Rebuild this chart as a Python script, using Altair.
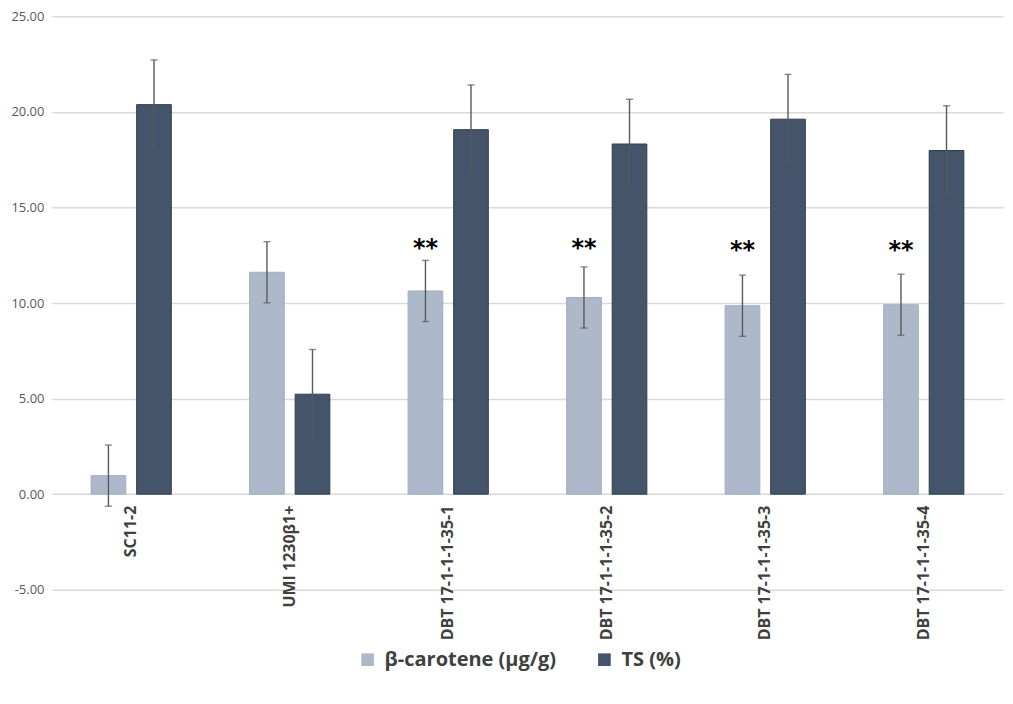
import altair as alt
import pandas as pd

categories = ["SC11-2", "UMI 1230β1+", "DBT 17-1-1-1-35-1", "DBT 17-1-1-1-35-2",
              "DBT 17-1-1-1-35-3", "DBT 17-1-1-1-35-4"]
series_names = ["β-carotene (µg/g)", "TS (%)"]
beta_values = [0.97, 11.61, 10.63, 10.29, 9.86, 9.91]
beta_errors = [1.60, 1.60, 1.60, 1.60, 1.60, 1.60]
ts_values = [20.38, 5.23, 19.07, 18.32, 19.62, 17.98]
ts_errors = [2.34, 2.34, 2.34, 2.34, 2.34, 2.34]
star_labels = ["", "", "**", "**", "**", "**"]
star_levels = [None, None, 13.0, 13.0, 12.9, 12.9]
y_ticks = [-5, 0, 5, 10, 15, 20, 25]

rows = []
for i, c in enumerate(categories):
    for s, v, e in ((series_names[0], beta_values[i], beta_errors[i]),
                    (series_names[1], ts_values[i], ts_errors[i])):
        rows.append({"category": c, "series": s, "value": v,
                     "lo": v - e, "hi": v + e})
df = pd.DataFrame(rows)

stars = pd.DataFrame([
    {"category": c, "series": series_names[0], "level": lvl, "label": lab}
    for c, lvl, lab in zip(categories, star_levels, star_labels) if lab
])

W, H = 952, 574
YMIN, YMAX = -5, 25

x_enc = alt.X(
    "category:N", sort=categories,
    scale=alt.Scale(paddingInner=0.494, paddingOuter=0.247),
    axis=alt.Axis(title=None, labelAngle=-90, domain=False, ticks=False, grid=False,
                  offset=-H * (0 - YMIN) / (YMAX - YMIN),
                  labelFontWeight="bold", labelFontSize=16, labelColor="#404040",
                  labelPadding=11, labelFont="Open Sans", labelLimit=0),
)
xo_enc = alt.XOffset("series:N", sort=series_names,
                     scale=alt.Scale(domain=series_names, paddingInner=0.239, paddingOuter=0))
y_scale = alt.Scale(domain=[YMIN, YMAX], nice=False, zero=False)

bars = alt.Chart(df).mark_bar(strokeWidth=1).encode(
    x=x_enc,
    xOffset=xo_enc,
    y=alt.Y("value:Q", scale=y_scale,
            axis=alt.Axis(values=y_ticks, title=None, domain=False, ticks=False,
                          gridColor="#D9D9D9", gridWidth=1.5,
                          labelExpr="datum.value < 0 ? '-' + format(-datum.value, '.2f') : format(datum.value, '.2f')",
                          labelColor="#595959", labelFontSize=13, labelPadding=8,
                          labelFont="Open Sans")),
    color=alt.Color("series:N", sort=series_names,
                    scale=alt.Scale(domain=series_names, range=["#ADB9CA", "#44546A"]),
                    legend=alt.Legend(orient="none", legendX=306, legendY=634,
                                      title=None, direction="horizontal",
                                      symbolType="square", symbolSize=160,
                                      symbolStrokeWidth=0, labelLimit=0,
                                      labelFontSize=20, labelFontWeight="bold",
                                      labelColor="#404040", labelFont="Open Sans",
                                      columnPadding=38, labelOffset=7)),
    stroke=alt.Stroke("series:N", sort=series_names,
                      scale=alt.Scale(domain=series_names, range=["#A2AEC0", "#2F3E54"]),
                      legend=None),
)

err_rule = alt.Chart(df).mark_rule(color="#595959", strokeWidth=1.4).encode(
    x=x_enc, xOffset=xo_enc,
    y=alt.Y("lo:Q", scale=y_scale), y2="hi:Q",
)
cap_lo = alt.Chart(df).mark_tick(color="#595959", thickness=1.4, size=7).encode(
    x=x_enc, xOffset=xo_enc, y=alt.Y("lo:Q", scale=y_scale),
)
cap_hi = alt.Chart(df).mark_tick(color="#595959", thickness=1.4, size=7).encode(
    x=x_enc, xOffset=xo_enc, y=alt.Y("hi:Q", scale=y_scale),
)
star_text = alt.Chart(stars).mark_text(
    fontSize=24, fontWeight="bold", color="#000000", baseline="alphabetic",
    align="center", dy=10, font="DejaVu Sans",
).encode(
    x=x_enc, xOffset=xo_enc, y=alt.Y("level:Q", scale=y_scale), text="label:N",
)

chart = alt.layer(bars, err_rule, cap_lo, cap_hi, star_text).properties(
    width=W, height=H, padding={"left": 2, "top": 2, "right": 2, "bottom": 2}
).configure(font="Open Sans", background="white").configure_view(strokeWidth=0)

chart.save("out.html", embed_options={"renderer": "svg", "actions": False})
